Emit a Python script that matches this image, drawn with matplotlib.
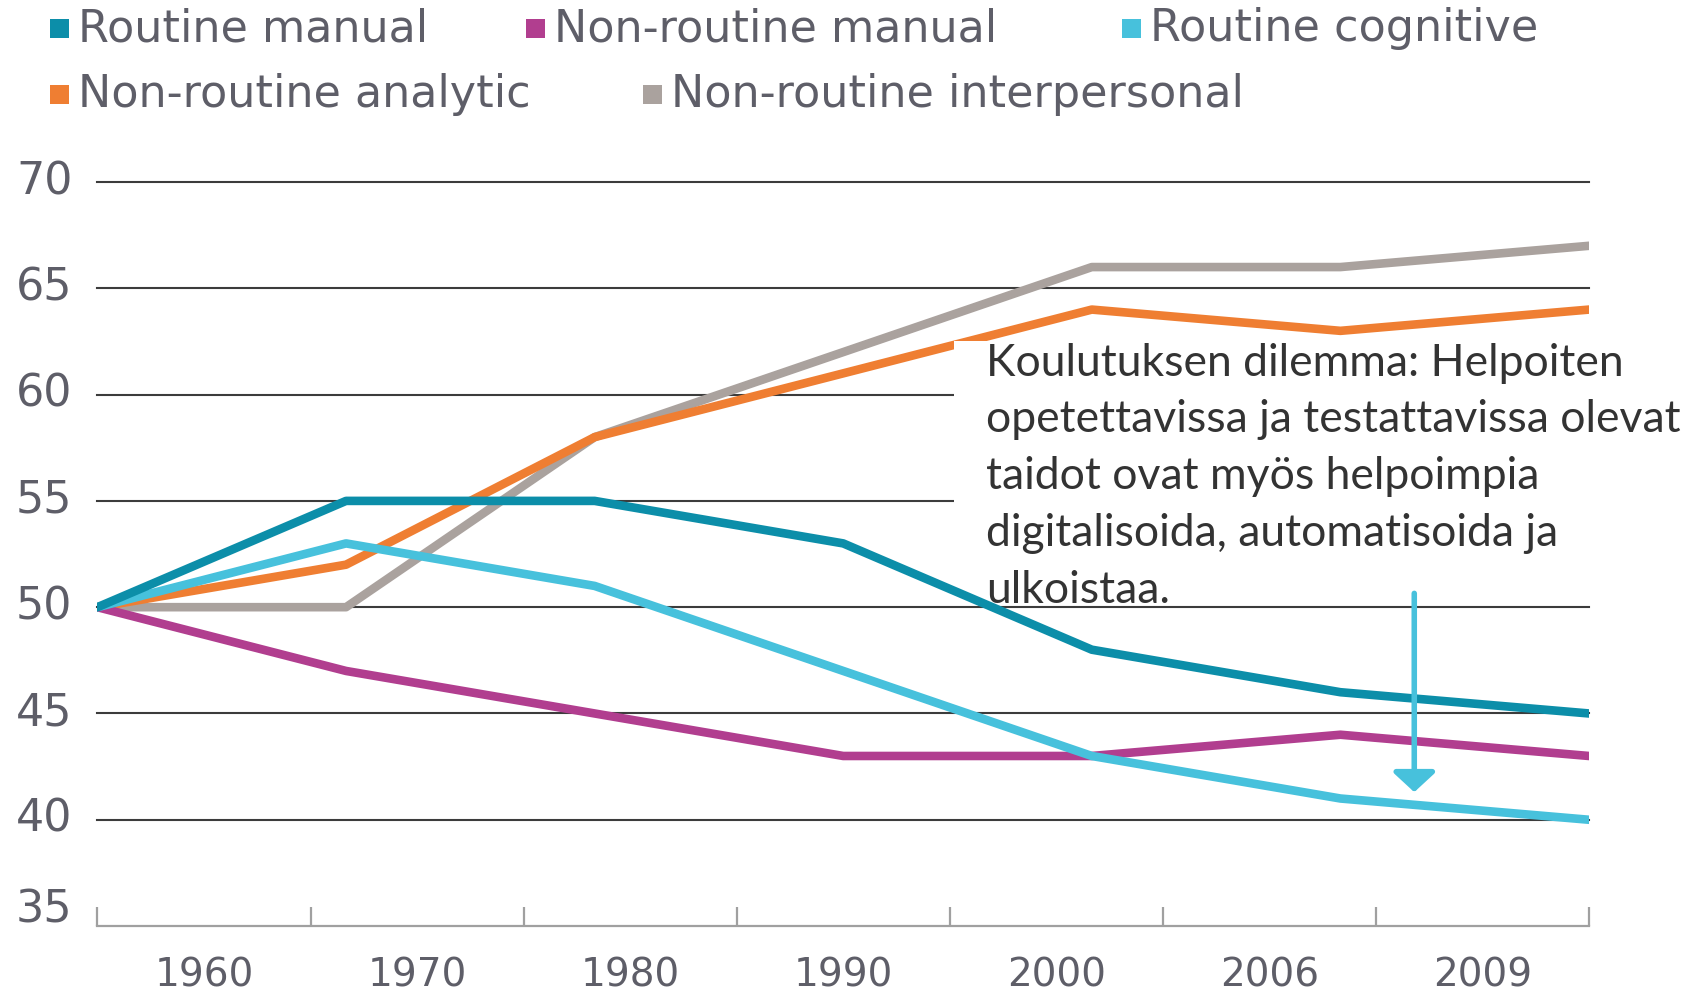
import numpy as np
import matplotlib
matplotlib.use("Agg")
import matplotlib.pyplot as plt
from matplotlib.patches import Rectangle
from matplotlib.transforms import ScaledTranslation

# Data (index values, 1960 = 50)
years = ["1960", "1970", "1980", "1990", "2000", "2006", "2009"]
routine_manual = [50, 55, 55, 53, 48, 46, 45]
nonroutine_manual = [50, 47, 45, 43, 43, 44, 43]
routine_cognitive = [50, 53, 51, 47, 43, 41, 40]
nonroutine_analytic = [50, 52, 58, 61, 64, 63, 64]
nonroutine_interpersonal = [50, 50, 58, 62, 66, 66, 67]

names = ["Routine manual", "Non-routine manual", "Routine cognitive",
         "Non-routine analytic", "Non-routine interpersonal"]
colors = ["#0c8ea9", "#b13e8f", "#47c1dc", "#ef7e32", "#aaa29e"]

note = ("Koulutuksen dilemma: Helpoiten\n"
        "opetettavissa ja testattavissa olevat\n"
        "taidot ovat myös helpoimpia\n"
        "digitalisoida, automatisoida ja\n"
        "ulkoistaa.")

txt_col = "#5e5e68"

fig = plt.figure(figsize=(16.98, 9.98), dpi=100)
ax = fig.add_axes([0.0574, 0.0721, 0.8784, 0.7455])

n = len(years)
x = np.arange(n) * n / (n - 1)   # points span the full axis of n bins

series = [nonroutine_interpersonal, nonroutine_analytic, nonroutine_manual,
          routine_cognitive, routine_manual]
order = [4, 3, 1, 2, 0]
for s, k in zip(series, order):
    ax.plot(x, s, color=colors[k], lw=6.2, solid_capstyle="round",
            solid_joinstyle="round", zorder=3)

ax.set_xlim(0, n)
ax.set_ylim(35, 70)

# grid lines
for v in range(40, 71, 5):
    ax.axhline(v, color="#3c3c3c", lw=1.5, zorder=1, clip_on=False)

# axes styling
for sp in ["top", "right", "left"]:
    ax.spines[sp].set_visible(False)
ax.spines["bottom"].set_color("#a0a0a0")
ax.spines["bottom"].set_linewidth(1.6)

ax.set_yticks(range(35, 71, 5))
ax.set_yticklabels([str(v) for v in range(35, 71, 5)], fontsize=32, color=txt_col)
ax.tick_params(axis="y", length=0, pad=18)
for lab in ax.get_yticklabels():
    dy = 0.21 if lab.get_text() == "35" else 0.05
    lab.set_transform(lab.get_transform() + ScaledTranslation(0, dy, fig.dpi_scale_trans))

ax.set_xticks(np.arange(n + 1))
ax.set_xticklabels([])
ax.tick_params(axis="x", which="major", direction="in", length=14, width=1.6,
               color="#a0a0a0")
ax.set_xticks(np.arange(n) + 0.5, minor=True)
ax.set_xticklabels(years, minor=True, fontsize=28, color=txt_col)
ax.tick_params(axis="x", which="minor", length=0, pad=22)

# annotation box
ax.add_patch(Rectangle((4.02, 51.66), 4.0, 10.84, facecolor="white",
                       edgecolor="none", zorder=4, clip_on=False))
ax.text(4.17, 62.45, note, fontsize=32, family="Lato", color="#333333",
        va="top", ha="left", linespacing=1.48, zorder=5)

ax.annotate("", xy=(6.18, 41.3), xytext=(6.18, 50.65),
            arrowprops=dict(arrowstyle="-|>,head_length=0.6,head_width=0.65",
                            mutation_scale=20, color=colors[2], lw=4,
                            shrinkA=0, shrinkB=0), zorder=6)

# legend drawn by hand
rows = [(0.971, [(78, 0), (554, 1), (1150, 2)]),
        (0.905, [(78, 3), (671, 4)])]
sq = 19
for yf, items in rows:
    for xp, k in items:
        fig.patches.append(Rectangle(((xp - 9 - sq) / 1698, yf - sq / 2 / 998),
                                     sq / 1698, sq / 998, facecolor=colors[k],
                                     edgecolor="none", transform=fig.transFigure))
        fig.text(xp / 1698, yf, names[k], fontsize=32, color=txt_col,
                 va="center", ha="left")

fig.savefig("out.png", dpi=100, facecolor="white")
